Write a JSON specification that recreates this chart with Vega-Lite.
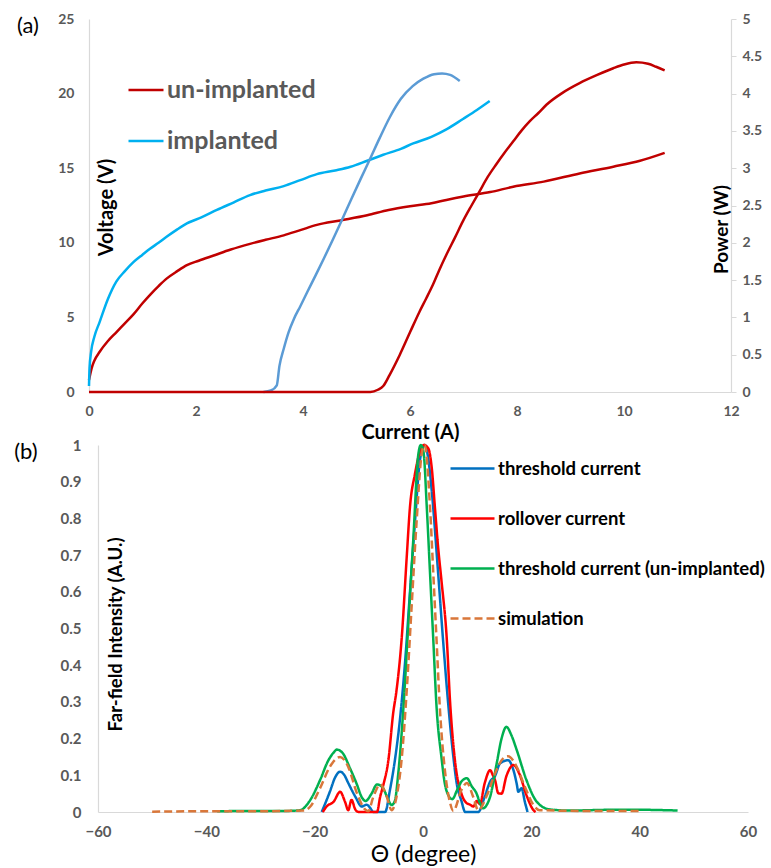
{
  "$schema": "https://vega.github.io/schema/vega-lite/v6.json",
  "padding": {"left": 14, "top": 12, "right": 5, "bottom": 5},
  "background": "white",
  "spacing": -4,
  "resolve": {"scale": {"color": "independent", "strokeDash": "independent"}, "legend": {"color": "independent", "strokeDash": "independent"}},
  "config": {
    "font": "Lato",
    "view": {"stroke": null},
    "axis": {
      "grid": false,
      "labelFont": "Lato",
      "labelFontWeight": "bold",
      "labelColor": "#595959",
      "labelFontSize": 14,
      "labelOverlap": false,
      "labelFlush": false,
      "domainColor": "#d9d9d9",
      "domainWidth": 1.2,
      "ticks": false,
      "titleFont": "Lato",
      "titleFontWeight": "bold",
      "titleColor": "#000000"
    },
    "legend": {
      "labelFont": "Lato",
      "labelFontWeight": "bold"
    }
  },
  "vconcat": [
    {
      "width": 642,
      "height": 373,
      "layer": [
        {
          "layer": [
            {
              "data": {"values": [
                {"I":0,"V":0.8,"s":"un-implanted"},{"I":0.05,"V":1.6,"s":"un-implanted"},{"I":0.1,"V":2.1,"s":"un-implanted"},{"I":0.2,"V":2.7,"s":"un-implanted"},{"I":0.35,"V":3.4,"s":"un-implanted"},{"I":0.51,"V":4.0,"s":"un-implanted"},{"I":0.67,"V":4.6,"s":"un-implanted"},{"I":0.83,"V":5.2,"s":"un-implanted"},{"I":1.0,"V":5.95,"s":"un-implanted"},{"I":1.15,"V":6.55,"s":"un-implanted"},{"I":1.3,"V":7.1,"s":"un-implanted"},{"I":1.45,"V":7.6,"s":"un-implanted"},{"I":1.65,"V":8.1,"s":"un-implanted"},{"I":1.83,"V":8.5,"s":"un-implanted"},{"I":2.05,"V":8.8,"s":"un-implanted"},{"I":2.33,"V":9.15,"s":"un-implanted"},{"I":2.65,"V":9.55,"s":"un-implanted"},{"I":3.01,"V":9.93,"s":"un-implanted"},{"I":3.3,"V":10.2,"s":"un-implanted"},{"I":3.64,"V":10.5,"s":"un-implanted"},{"I":3.95,"V":10.85,"s":"un-implanted"},{"I":4.26,"V":11.2,"s":"un-implanted"},{"I":4.7,"V":11.5,"s":"un-implanted"},{"I":5.2,"V":11.85,"s":"un-implanted"},{"I":5.6,"V":12.2,"s":"un-implanted"},{"I":6.0,"V":12.45,"s":"un-implanted"},{"I":6.4,"V":12.65,"s":"un-implanted"},{"I":6.68,"V":12.87,"s":"un-implanted"},{"I":7.0,"V":13.1,"s":"un-implanted"},{"I":7.5,"V":13.4,"s":"un-implanted"},{"I":7.93,"V":13.76,"s":"un-implanted"},{"I":8.5,"V":14.1,"s":"un-implanted"},{"I":9.17,"V":14.65,"s":"un-implanted"},{"I":9.8,"V":15.1,"s":"un-implanted"},{"I":10.3,"V":15.5,"s":"un-implanted"},{"I":10.76,"V":16.03,"s":"un-implanted"},
                {"I":0,"V":0.4,"s":"implanted"},{"I":0.01,"V":1.6,"s":"implanted"},{"I":0.04,"V":2.7,"s":"implanted"},{"I":0.1,"V":3.7,"s":"implanted"},{"I":0.2,"V":4.7,"s":"implanted"},{"I":0.35,"V":6.2,"s":"implanted"},{"I":0.51,"V":7.4,"s":"implanted"},{"I":0.67,"V":8.1,"s":"implanted"},{"I":0.83,"V":8.7,"s":"implanted"},{"I":1.0,"V":9.2,"s":"implanted"},{"I":1.14,"V":9.6,"s":"implanted"},{"I":1.3,"V":10.0,"s":"implanted"},{"I":1.45,"V":10.4,"s":"implanted"},{"I":1.65,"V":10.9,"s":"implanted"},{"I":1.83,"V":11.3,"s":"implanted"},{"I":2.1,"V":11.7,"s":"implanted"},{"I":2.39,"V":12.2,"s":"implanted"},{"I":2.7,"V":12.7,"s":"implanted"},{"I":3.01,"V":13.2,"s":"implanted"},{"I":3.3,"V":13.5,"s":"implanted"},{"I":3.64,"V":13.8,"s":"implanted"},{"I":3.95,"V":14.2,"s":"implanted"},{"I":4.26,"V":14.6,"s":"implanted"},{"I":4.6,"V":14.85,"s":"implanted"},{"I":4.89,"V":15.1,"s":"implanted"},{"I":5.2,"V":15.5,"s":"implanted"},{"I":5.5,"V":15.9,"s":"implanted"},{"I":5.83,"V":16.3,"s":"implanted"},{"I":6.06,"V":16.66,"s":"implanted"},{"I":6.4,"V":17.1,"s":"implanted"},{"I":6.68,"V":17.6,"s":"implanted"},{"I":6.99,"V":18.3,"s":"implanted"},{"I":7.25,"V":18.9,"s":"implanted"},{"I":7.49,"V":19.5,"s":"implanted"}
              ]},
              "mark": {"type": "line", "strokeWidth": 2.5, "interpolate": "monotone"},
              "encoding": {
                "x": {"field": "I", "type": "quantitative",
                  "scale": {"domain": [0, 12], "nice": false, "zero": false},
                  "axis": {"values": [0,2,4,6,8,10,12], "format": "d", "labelPadding": 12, "title": "Current (A)", "titleFontSize": 20, "titleX": 321, "titleY": 40, "titleBaseline": "middle", "titleAlign": "center"}},
                "y": {"field": "V", "type": "quantitative",
                  "scale": {"domain": [0, 25], "nice": false},
                  "axis": {"values": [0,5,10,15,20,25], "format": "d", "labelPadding": 15, "title": "Voltage (V)", "titleFontSize": 20, "titleAngle": -90, "titleX": 17, "titleY": 188, "titleBaseline": "middle", "titleAlign": "center"}},
                "color": {"field": "s", "type": "nominal",
                  "scale": {"domain": ["un-implanted", "implanted", "implanted power"], "range": ["#c00000", "#00b0f0", "#5b9bd5"]},
                  "legend": {"values": ["un-implanted", "implanted"], "title": null, "orient": "none", "legendX": 38, "legendY": 52, "symbolType": "stroke", "symbolSize": 1225, "symbolStrokeWidth": 2.5, "labelFontSize": 25, "labelColor": "#595959", "labelOffset": 2, "rowPadding": 19}}
              }
            },
            {
              "data": {"values": [{"label": "(a)", "I": -1.14, "V": 24.5}]},
              "mark": {"type": "text", "fontSize": 22, "font": "Lato", "color": "#000000", "baseline": "middle", "align": "center"},
              "encoding": {
                "x": {"field": "I", "type": "quantitative",
                  "axis": {"values": [0,2,4,6,8,10,12], "format": "d", "labelPadding": 12, "title": "Current (A)", "titleFontSize": 20, "titleX": 321, "titleY": 40, "titleBaseline": "middle", "titleAlign": "center"}},
                "y": {"field": "V", "type": "quantitative",
                  "axis": {"values": [0,5,10,15,20,25], "format": "d", "labelPadding": 15, "title": "Voltage (V)", "titleFontSize": 20, "titleAngle": -90, "titleX": 17, "titleY": 188, "titleBaseline": "middle", "titleAlign": "center"}},
                "text": {"field": "label"}
              }
            }
          ]
        },
        {
          "data": {"values": [
            {"I":3.26,"P":0,"s":"implanted power"},{"I":3.4,"P":0.02,"s":"implanted power"},{"I":3.51,"P":0.09,"s":"implanted power"},{"I":3.56,"P":0.35,"s":"implanted power"},{"I":3.64,"P":0.58,"s":"implanted power"},{"I":3.73,"P":0.8,"s":"implanted power"},{"I":3.83,"P":0.98,"s":"implanted power"},{"I":3.95,"P":1.15,"s":"implanted power"},{"I":4.08,"P":1.34,"s":"implanted power"},{"I":4.24,"P":1.57,"s":"implanted power"},{"I":4.39,"P":1.79,"s":"implanted power"},{"I":4.55,"P":2.03,"s":"implanted power"},{"I":4.71,"P":2.28,"s":"implanted power"},{"I":4.9,"P":2.58,"s":"implanted power"},{"I":5.08,"P":2.86,"s":"implanted power"},{"I":5.25,"P":3.12,"s":"implanted power"},{"I":5.43,"P":3.4,"s":"implanted power"},{"I":5.62,"P":3.68,"s":"implanted power"},{"I":5.83,"P":3.93,"s":"implanted power"},{"I":6.05,"P":4.1,"s":"implanted power"},{"I":6.25,"P":4.2,"s":"implanted power"},{"I":6.45,"P":4.26,"s":"implanted power"},{"I":6.6,"P":4.27,"s":"implanted power"},{"I":6.75,"P":4.25,"s":"implanted power"},{"I":6.93,"P":4.17,"s":"implanted power"},
            {"I":0,"P":0,"s":"un-implanted"},{"I":5.26,"P":0,"s":"un-implanted"},{"I":5.4,"P":0.03,"s":"un-implanted"},{"I":5.5,"P":0.08,"s":"un-implanted"},{"I":5.62,"P":0.23,"s":"un-implanted"},{"I":5.81,"P":0.5,"s":"un-implanted"},{"I":6.0,"P":0.8,"s":"un-implanted"},{"I":6.18,"P":1.08,"s":"un-implanted"},{"I":6.3,"P":1.25,"s":"un-implanted"},{"I":6.43,"P":1.44,"s":"un-implanted"},{"I":6.55,"P":1.64,"s":"un-implanted"},{"I":6.68,"P":1.84,"s":"un-implanted"},{"I":6.84,"P":2.07,"s":"un-implanted"},{"I":6.99,"P":2.29,"s":"un-implanted"},{"I":7.15,"P":2.5,"s":"un-implanted"},{"I":7.3,"P":2.69,"s":"un-implanted"},{"I":7.45,"P":2.88,"s":"un-implanted"},{"I":7.61,"P":3.05,"s":"un-implanted"},{"I":7.77,"P":3.21,"s":"un-implanted"},{"I":7.93,"P":3.36,"s":"un-implanted"},{"I":8.08,"P":3.5,"s":"un-implanted"},{"I":8.24,"P":3.63,"s":"un-implanted"},{"I":8.4,"P":3.74,"s":"un-implanted"},{"I":8.55,"P":3.85,"s":"un-implanted"},{"I":8.85,"P":4.01,"s":"un-implanted"},{"I":9.17,"P":4.14,"s":"un-implanted"},{"I":9.5,"P":4.25,"s":"un-implanted"},{"I":9.8,"P":4.34,"s":"un-implanted"},{"I":10.0,"P":4.39,"s":"un-implanted"},{"I":10.23,"P":4.42,"s":"un-implanted"},{"I":10.45,"P":4.4,"s":"un-implanted"},{"I":10.6,"P":4.36,"s":"un-implanted"},{"I":10.76,"P":4.31,"s":"un-implanted"}
          ]},
          "mark": {"type": "line", "strokeWidth": 2.5, "interpolate": "monotone"},
          "encoding": {
            "x": {"field": "I", "type": "quantitative"},
            "y": {"field": "P", "type": "quantitative",
              "scale": {"domain": [0, 5], "nice": false},
              "axis": {"orient": "right", "values": [0,0.5,1,1.5,2,2.5,3,3.5,4,4.5,5], "format": "~g", "ticks": true, "tickSize": 5, "tickColor": "#d9d9d9", "labelPadding": 6, "title": "Power (W)", "titleFontSize": 19, "titleAngle": -90, "titleX": -10, "titleY": 210, "titleBaseline": "middle", "titleAlign": "center"}},
            "color": {"field": "s", "type": "nominal"}
          }
        }
      ],
      "resolve": {"scale": {"y": "independent"}}
    },
    {
      "width": 659,
      "height": 367,
      "layer": [
        {
          "data": {"values": [
            {"t":-18.7,"v":0,"s":"threshold current"},{"t":-18,"v":0.025,"s":"threshold current"},{"t":-17.2,"v":0.055,"s":"threshold current"},{"t":-16.2,"v":0.095,"s":"threshold current"},{"t":-15.3,"v":0.11,"s":"threshold current"},{"t":-14.5,"v":0.1,"s":"threshold current"},{"t":-13.8,"v":0.079,"s":"threshold current"},{"t":-12.5,"v":0.042,"s":"threshold current"},{"t":-11.3,"v":0.015,"s":"threshold current"},{"t":-10.4,"v":0.02,"s":"threshold current"},{"t":-9.7,"v":0.01,"s":"threshold current"},{"t":-9.2,"v":0,"s":"threshold current"},{"t":-7,"v":0,"s":"threshold current"},{"t":-6.1,"v":0.06,"s":"threshold current"},{"t":-5.2,"v":0.14,"s":"threshold current"},{"t":-4.2,"v":0.26,"s":"threshold current"},{"t":-3.3,"v":0.41,"s":"threshold current"},{"t":-2.4,"v":0.6,"s":"threshold current"},{"t":-1.5,"v":0.787,"s":"threshold current"},{"t":-0.55,"v":0.96,"s":"threshold current"},{"t":0.3,"v":1.0,"s":"threshold current"},{"t":0.9,"v":0.97,"s":"threshold current"},{"t":1.6,"v":0.877,"s":"threshold current"},{"t":2.8,"v":0.65,"s":"threshold current"},{"t":3.7,"v":0.469,"s":"threshold current"},{"t":4.7,"v":0.287,"s":"threshold current"},{"t":5.6,"v":0.151,"s":"threshold current"},{"t":6.2,"v":0.08,"s":"threshold current"},{"t":7.1,"v":0.03,"s":"threshold current"},{"t":7.8,"v":0,"s":"threshold current"},{"t":10.2,"v":0,"s":"threshold current"},{"t":11.4,"v":0.042,"s":"threshold current"},{"t":12.4,"v":0.083,"s":"threshold current"},{"t":13.3,"v":0.098,"s":"threshold current"},{"t":14.2,"v":0.132,"s":"threshold current"},{"t":15.7,"v":0.141,"s":"threshold current"},{"t":16.7,"v":0.114,"s":"threshold current"},{"t":17.3,"v":0.077,"s":"threshold current"},{"t":17.6,"v":0.055,"s":"threshold current"},{"t":18.2,"v":0.065,"s":"threshold current"},{"t":18.8,"v":0.028,"s":"threshold current"},{"t":19.3,"v":0,"s":"threshold current"},
            {"t":-18.5,"v":0,"s":"rollover current"},{"t":-17.8,"v":0.015,"s":"rollover current"},{"t":-16.5,"v":0.028,"s":"rollover current"},{"t":-15.3,"v":0.055,"s":"rollover current"},{"t":-14.4,"v":0.028,"s":"rollover current"},{"t":-13.8,"v":0.005,"s":"rollover current"},{"t":-13.2,"v":0.033,"s":"rollover current"},{"t":-12.5,"v":0.007,"s":"rollover current"},{"t":-11.9,"v":0,"s":"rollover current"},{"t":-8.5,"v":0,"s":"rollover current"},{"t":-7.9,"v":0.042,"s":"rollover current"},{"t":-7.3,"v":0.075,"s":"rollover current"},{"t":-6.4,"v":0.14,"s":"rollover current"},{"t":-5.5,"v":0.27,"s":"rollover current"},{"t":-4.9,"v":0.33,"s":"rollover current"},{"t":-3.9,"v":0.48,"s":"rollover current"},{"t":-3.0,"v":0.696,"s":"rollover current"},{"t":-2.4,"v":0.832,"s":"rollover current"},{"t":-1.5,"v":0.92,"s":"rollover current"},{"t":-0.6,"v":0.98,"s":"rollover current"},{"t":0.2,"v":1.0,"s":"rollover current"},{"t":1.0,"v":0.99,"s":"rollover current"},{"t":1.6,"v":0.94,"s":"rollover current"},{"t":2.2,"v":0.83,"s":"rollover current"},{"t":2.8,"v":0.72,"s":"rollover current"},{"t":3.4,"v":0.632,"s":"rollover current"},{"t":4.4,"v":0.469,"s":"rollover current"},{"t":5.0,"v":0.3,"s":"rollover current"},{"t":5.9,"v":0.14,"s":"rollover current"},{"t":7.1,"v":0.05,"s":"rollover current"},{"t":8.0,"v":0.025,"s":"rollover current"},{"t":8.7,"v":0.02,"s":"rollover current"},{"t":9.3,"v":0.015,"s":"rollover current"},{"t":9.9,"v":0.03,"s":"rollover current"},{"t":10.5,"v":0.022,"s":"rollover current"},{"t":11.4,"v":0.079,"s":"rollover current"},{"t":12.4,"v":0.114,"s":"rollover current"},{"t":12.9,"v":0.1,"s":"rollover current"},{"t":13.3,"v":0.087,"s":"rollover current"},{"t":13.9,"v":0.051,"s":"rollover current"},{"t":14.5,"v":0.05,"s":"rollover current"},{"t":15.4,"v":0.098,"s":"rollover current"},{"t":16.7,"v":0.128,"s":"rollover current"},{"t":17.9,"v":0.1,"s":"rollover current"},{"t":19.1,"v":0.046,"s":"rollover current"},{"t":20.4,"v":0.005,"s":"rollover current"},{"t":20.8,"v":0,"s":"rollover current"},
            {"t":-38,"v":0.002,"s":"threshold current (un-implanted)"},{"t":-30,"v":0.003,"s":"threshold current (un-implanted)"},{"t":-25,"v":0.003,"s":"threshold current (un-implanted)"},{"t":-22.7,"v":0.005,"s":"threshold current (un-implanted)"},{"t":-20.8,"v":0.033,"s":"threshold current (un-implanted)"},{"t":-19,"v":0.087,"s":"threshold current (un-implanted)"},{"t":-17.5,"v":0.14,"s":"threshold current (un-implanted)"},{"t":-16.5,"v":0.162,"s":"threshold current (un-implanted)"},{"t":-15.9,"v":0.17,"s":"threshold current (un-implanted)"},{"t":-14.8,"v":0.16,"s":"threshold current (un-implanted)"},{"t":-13.5,"v":0.12,"s":"threshold current (un-implanted)"},{"t":-12.2,"v":0.075,"s":"threshold current (un-implanted)"},{"t":-11.3,"v":0.04,"s":"threshold current (un-implanted)"},{"t":-10.6,"v":0.03,"s":"threshold current (un-implanted)"},{"t":-9.5,"v":0.05,"s":"threshold current (un-implanted)"},{"t":-8.5,"v":0.075,"s":"threshold current (un-implanted)"},{"t":-7.5,"v":0.068,"s":"threshold current (un-implanted)"},{"t":-6.6,"v":0.04,"s":"threshold current (un-implanted)"},{"t":-5.8,"v":0.019,"s":"threshold current (un-implanted)"},{"t":-5.2,"v":0.03,"s":"threshold current (un-implanted)"},{"t":-4.6,"v":0.1,"s":"threshold current (un-implanted)"},{"t":-3.6,"v":0.287,"s":"threshold current (un-implanted)"},{"t":-2.7,"v":0.514,"s":"threshold current (un-implanted)"},{"t":-1.8,"v":0.741,"s":"threshold current (un-implanted)"},{"t":-0.9,"v":0.97,"s":"threshold current (un-implanted)"},{"t":-0.4,"v":1.0,"s":"threshold current (un-implanted)"},{"t":0.1,"v":0.98,"s":"threshold current (un-implanted)"},{"t":0.7,"v":0.83,"s":"threshold current (un-implanted)"},{"t":1.3,"v":0.65,"s":"threshold current (un-implanted)"},{"t":1.9,"v":0.469,"s":"threshold current (un-implanted)"},{"t":2.5,"v":0.287,"s":"threshold current (un-implanted)"},{"t":3.4,"v":0.15,"s":"threshold current (un-implanted)"},{"t":4.0,"v":0.08,"s":"threshold current (un-implanted)"},{"t":4.7,"v":0.045,"s":"threshold current (un-implanted)"},{"t":5.4,"v":0.035,"s":"threshold current (un-implanted)"},{"t":6.3,"v":0.06,"s":"threshold current (un-implanted)"},{"t":7.2,"v":0.085,"s":"threshold current (un-implanted)"},{"t":8.1,"v":0.092,"s":"threshold current (un-implanted)"},{"t":9.0,"v":0.07,"s":"threshold current (un-implanted)"},{"t":9.9,"v":0.05,"s":"threshold current (un-implanted)"},{"t":10.5,"v":0.025,"s":"threshold current (un-implanted)"},{"t":11.1,"v":0.01,"s":"threshold current (un-implanted)"},{"t":11.8,"v":0.02,"s":"threshold current (un-implanted)"},{"t":12.4,"v":0.042,"s":"threshold current (un-implanted)"},{"t":13.6,"v":0.132,"s":"threshold current (un-implanted)"},{"t":14.5,"v":0.2,"s":"threshold current (un-implanted)"},{"t":15.4,"v":0.232,"s":"threshold current (un-implanted)"},{"t":16.3,"v":0.21,"s":"threshold current (un-implanted)"},{"t":17.3,"v":0.169,"s":"threshold current (un-implanted)"},{"t":19.1,"v":0.087,"s":"threshold current (un-implanted)"},{"t":21,"v":0.028,"s":"threshold current (un-implanted)"},{"t":23.4,"v":0.007,"s":"threshold current (un-implanted)"},{"t":27,"v":0.004,"s":"threshold current (un-implanted)"},{"t":35,"v":0.006,"s":"threshold current (un-implanted)"},{"t":40,"v":0.006,"s":"threshold current (un-implanted)"},{"t":47,"v":0.004,"s":"threshold current (un-implanted)"},
            {"t":-50,"v":0.001,"s":"simulation"},{"t":-40,"v":0.002,"s":"simulation"},{"t":-30,"v":0.002,"s":"simulation"},{"t":-22,"v":0.004,"s":"simulation"},{"t":-20.8,"v":0.015,"s":"simulation"},{"t":-19,"v":0.065,"s":"simulation"},{"t":-17.2,"v":0.123,"s":"simulation"},{"t":-15.3,"v":0.15,"s":"simulation"},{"t":-13.8,"v":0.123,"s":"simulation"},{"t":-12.2,"v":0.051,"s":"simulation"},{"t":-10.7,"v":0.007,"s":"simulation"},{"t":-10.1,"v":0.002,"s":"simulation"},{"t":-9.2,"v":0.04,"s":"simulation"},{"t":-7.9,"v":0.075,"s":"simulation"},{"t":-6.7,"v":0.042,"s":"simulation"},{"t":-5.8,"v":0.005,"s":"simulation"},{"t":-4.9,"v":0.04,"s":"simulation"},{"t":-3.9,"v":0.151,"s":"simulation"},{"t":-3.0,"v":0.332,"s":"simulation"},{"t":-2.1,"v":0.56,"s":"simulation"},{"t":-1.2,"v":0.787,"s":"simulation"},{"t":-0.2,"v":0.98,"s":"simulation"},{"t":0.3,"v":1.0,"s":"simulation"},{"t":1.3,"v":0.83,"s":"simulation"},{"t":1.9,"v":0.65,"s":"simulation"},{"t":2.5,"v":0.469,"s":"simulation"},{"t":3.1,"v":0.287,"s":"simulation"},{"t":4.1,"v":0.106,"s":"simulation"},{"t":5.0,"v":0.025,"s":"simulation"},{"t":5.6,"v":0.003,"s":"simulation"},{"t":7.1,"v":0.06,"s":"simulation"},{"t":8.1,"v":0.079,"s":"simulation"},{"t":9.3,"v":0.04,"s":"simulation"},{"t":10.2,"v":0.005,"s":"simulation"},{"t":11.7,"v":0.042,"s":"simulation"},{"t":13.3,"v":0.105,"s":"simulation"},{"t":14.8,"v":0.146,"s":"simulation"},{"t":15.7,"v":0.152,"s":"simulation"},{"t":17.3,"v":0.123,"s":"simulation"},{"t":18.8,"v":0.069,"s":"simulation"},{"t":20.4,"v":0.019,"s":"simulation"},{"t":21.5,"v":0.005,"s":"simulation"},{"t":30,"v":0.003,"s":"simulation"},{"t":40,"v":0.003,"s":"simulation"}
          ]},
          "mark": {"type": "line", "strokeWidth": 2.5, "interpolate": "monotone"},
          "encoding": {
            "x": {"field": "t", "type": "quantitative",
              "scale": {"domain": [-60, 60], "nice": false, "range": [9, 659]},
              "axis": {"values": [-60,-40,-20,0,20,40,60], "format": "d", "labelPadding": 12, "labelFontSize": 15, "labelFlush": false, "title": "Θ (degree)", "titleFontWeight": "normal", "titleFontSize": 23, "titleX": 334, "titleY": 42, "titleBaseline": "middle", "titleAlign": "center"}},
            "y": {"field": "v", "type": "quantitative",
              "scale": {"domain": [0, 1], "nice": false},
              "axis": {"offset": -9, "values": [0,0.1,0.2,0.3,0.4,0.5,0.6,0.7,0.8,0.9,1], "format": "~g", "tickCount": 11, "labelOverlap": false, "labelPadding": 17, "labelFontSize": 15, "title": "Far-field Intensity (A.U.)", "titleFontSize": 18.5, "titleAngle": -90, "titleX": 17, "titleY": 189, "titleBaseline": "middle", "titleAlign": "center"}},
            "color": {"field": "s", "type": "nominal",
              "scale": {"domain": ["threshold current", "rollover current", "threshold current (un-implanted)", "simulation"], "range": ["#0070c0", "#ff0000", "#00b050", "#d9773a"]},
              "legend": {"title": null, "orient": "none", "legendX": 360, "legendY": 0, "symbolType": "stroke", "symbolSize": 1936, "symbolStrokeWidth": 2.5, "labelFontSize": 18.5, "labelColor": "#000000", "labelOffset": 2, "labelLimit": 400, "rowPadding": 17}},
            "strokeDash": {"field": "s", "type": "nominal",
              "scale": {"domain": ["threshold current", "rollover current", "threshold current (un-implanted)", "simulation"], "range": [[1,0],[1,0],[1,0],[8,4]]},
              "legend": {"title": null, "orient": "none", "legendX": 360, "legendY": 0, "symbolType": "stroke", "symbolSize": 1936, "symbolStrokeWidth": 2.5, "labelFontSize": 18.5, "labelColor": "#000000", "labelOffset": 2, "labelLimit": 400, "rowPadding": 17}}
          }
        },
        {
          "data": {"values": [{"label": "(b)", "t": -73.3, "v": 0.981}]},
          "mark": {"type": "text", "fontSize": 22, "font": "Lato", "color": "#000000", "baseline": "middle", "align": "center"},
          "encoding": {
            "x": {"field": "t", "type": "quantitative",
              "axis": {"values": [-60,-40,-20,0,20,40,60], "format": "d", "labelPadding": 12, "labelFontSize": 15, "labelFlush": false, "title": "Θ (degree)", "titleFontWeight": "normal", "titleFontSize": 23, "titleX": 334, "titleY": 42, "titleBaseline": "middle", "titleAlign": "center"}},
            "y": {"field": "v", "type": "quantitative",
              "axis": {"offset": -9, "values": [0,0.1,0.2,0.3,0.4,0.5,0.6,0.7,0.8,0.9,1], "format": "~g", "tickCount": 11, "labelOverlap": false, "labelPadding": 17, "labelFontSize": 15, "title": "Far-field Intensity (A.U.)", "titleFontSize": 18.5, "titleAngle": -90, "titleX": 17, "titleY": 189, "titleBaseline": "middle", "titleAlign": "center"}},
            "text": {"field": "label"}
          }
        }
      ]
    }
  ]
}
